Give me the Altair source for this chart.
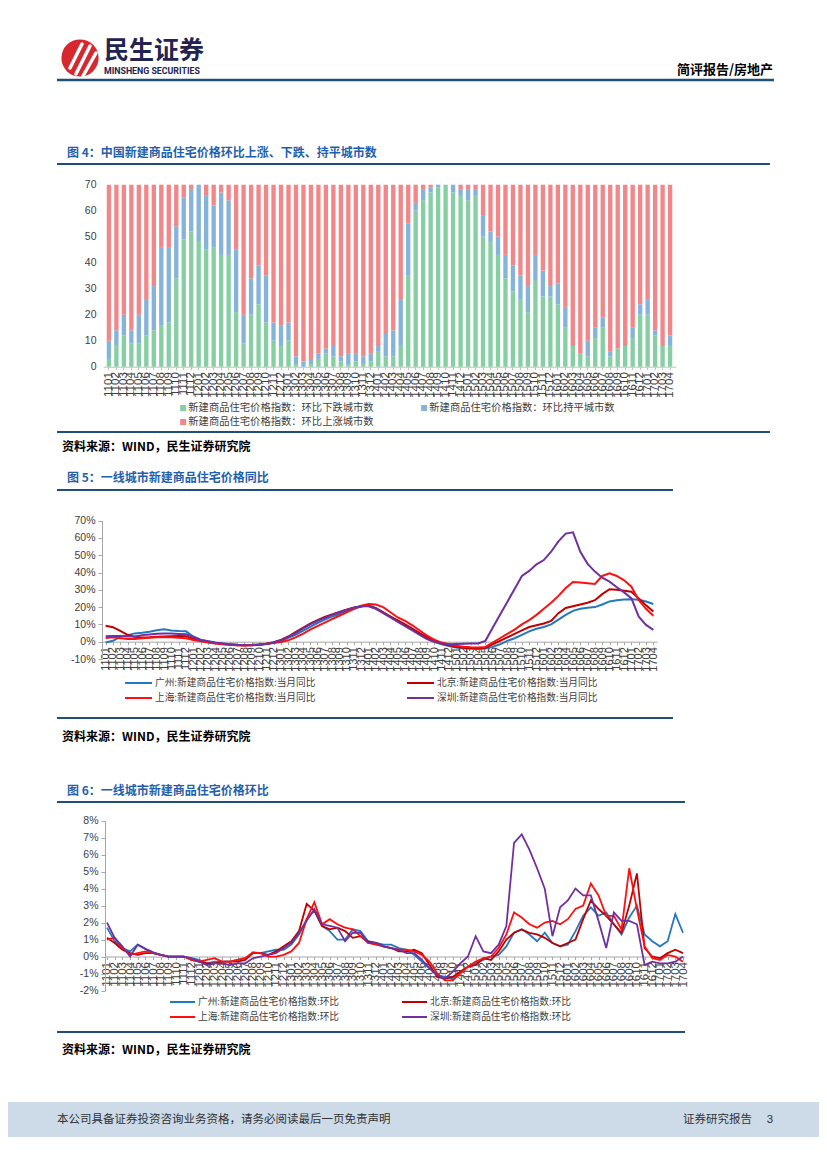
import altair as alt
import pandas as pd

W, H = 811, 1153
CJK = "Noto Sans CJK SC"
NUM = "Liberation Sans"

# ---------------- data ----------------
months = [f"{y:02d}{m:02d}" for y in range(11, 18) for m in range(1, 13)][:76]

bar_cats = ["新建商品住宅价格指数：环比下跌城市数",
            "新建商品住宅价格指数：环比持平城市数",
            "新建商品住宅价格指数：环比上涨城市数"]
bar_colors = ["#86CFA2", "#86B3DA", "#F2878A"]
# legend fills column by column: this order puts 下跌, 持平 on row 1 and 上涨 on row 2
bar_legend_order = [bar_cats[0], bar_cats[2], bar_cats[1]]
bar_legend_colors = [bar_colors[0], bar_colors[2], bar_colors[1]]

down = [3, 8, 12, 9, 9, 12, 14, 16, 17, 34, 49, 52, 48, 45, 46, 43, 43, 21, 9, 20,
        24, 17, 10, 8, 10, 1, 0, 1, 3, 5, 4, 2, 1, 2, 1, 2, 6, 4, 4, 8,
        35, 60, 64, 67, 69, 70, 67, 66, 64, 66, 50, 48, 43, 34, 29, 26, 21, 33, 27, 27,
        24, 15, 8, 5, 4, 11, 15, 4, 7, 8, 11, 20, 20, 12, 8, 8]
flat = [7, 6, 8, 5, 11, 14, 17, 30, 29, 20, 16, 16, 22, 21, 16, 24, 21, 24, 11, 14,
        15, 18, 7, 8, 7, 3, 2, 2, 2, 2, 4, 2, 4, 3, 3, 3, 2, 9, 10, 18,
        20, 3, 4, 2, 1, 0, 3, 2, 4, 2, 8, 4, 7, 9, 10, 9, 10, 10, 10, 4,
        8, 8, 0, 0, 6, 4, 4, 2, 0, 0, 4, 4, 6, 2, 0, 4]
up = [60, 56, 50, 56, 50, 44, 39, 24, 24, 16, 5, 2, 0, 4, 8, 3, 6, 25, 50, 36,
      31, 35, 53, 54, 53, 66, 68, 67, 65, 63, 62, 66, 65, 65, 66, 65, 62, 57, 56, 44,
      15, 7, 2, 1, 0, 0, 0, 2, 2, 2, 12, 18, 20, 27, 31, 35, 39, 27, 33, 39,
      38, 47, 62, 65, 60, 55, 51, 64, 63, 62, 55, 46, 44, 56, 62, 58]

names5 = ["广州:新建商品住宅价格指数:当月同比", "北京:新建商品住宅价格指数:当月同比",
          "上海:新建商品住宅价格指数:当月同比", "深圳:新建商品住宅价格指数:当月同比"]
names6 = ["广州:新建商品住宅价格指数:环比", "北京:新建商品住宅价格指数:环比",
          "上海:新建商品住宅价格指数:环比", "深圳:新建商品住宅价格指数:环比"]
line_colors = ["#2478BE", "#C00000", "#FF1010", "#7030A0"]
# column-major legend order: 广州, 上海 | 北京, 深圳
leg_idx = [0, 2, 1, 3]

gz5 = [-0.5, 0.5, 2.8, 3.8, 4.8, 5.2, 5.8, 6.6, 7.2, 6.5, 6.2, 6.0, 3.0, 1.2, 0.3, -0.5,
       -1.0, -1.4, -1.7, -1.9, -1.9, -1.7, -1.3, -0.6, 0.5, 2.2, 4.0, 6.2, 8.6, 10.8, 12.8, 14.5,
       16.0, 17.5, 19.0, 20.3, 21.0, 19.5, 17.0, 14.5, 12.0, 9.5, 7.0, 4.5, 2.0, 0.0, -1.5, -2.5,
       -3.3, -3.8, -4.0, -4.2, -4.0, -3.0, -1.5, 0.5, 2.0, 4.0, 6.0, 7.5, 8.5, 10.0, 12.8, 15.5,
       17.8, 19.0, 19.6, 20.0, 21.5, 23.3, 24.0, 24.4, 24.6, 24.3, 23.2, 21.8]
bj5 = [9.2, 8.4, 6.2, 4.0, 2.8, 2.5, 2.6, 2.8, 3.0, 3.2, 3.3, 3.2, 1.8, 0.5, -0.2, -0.8,
       -1.3, -1.7, -2.0, -2.2, -2.1, -1.8, -1.2, -0.3, 1.0, 3.0, 5.5, 8.0, 10.5, 12.5, 14.3, 15.8,
       17.2, 18.5, 19.7, 20.5, 20.8, 19.3, 17.0, 14.5, 12.3, 10.0, 7.5, 5.0, 2.5, 0.5, -1.0, -2.0,
       -3.0, -3.5, -3.8, -3.8, -3.5, -1.5, 0.5, 2.5, 4.5, 6.5, 8.5, 9.5, 10.5, 12.0, 16.5, 19.5,
       20.5, 21.5, 22.5, 24.0, 27.5, 30.3, 30.0, 29.5, 28.9, 25.0, 21.0, 17.4]
sh5 = [2.2, 2.5, 2.0, 1.5, 1.5, 2.0, 2.3, 2.5, 2.6, 2.5, 2.3, 2.0, 1.0, 0.2, -0.5, -1.0,
       -1.5, -1.8, -2.0, -2.0, -1.8, -1.5, -1.2, -0.8, -0.2, 0.8, 2.5, 4.5, 7.0, 9.0, 11.0, 13.0,
       15.0, 17.0, 19.0, 20.8, 21.8, 21.5, 20.0, 17.0, 14.0, 12.0, 9.5, 6.5, 3.5, 1.2, -0.5, -1.5,
       -2.3, -2.9, -3.2, -3.3, -3.0, -0.5, 2.0, 4.5, 7.0, 10.0, 12.5, 15.5, 19.0, 22.5, 26.5, 31.0,
       34.5, 34.2, 33.8, 33.4, 38.0, 39.5, 38.0, 35.5, 31.8, 24.0, 19.0, 15.0]
sz5 = [3.2, 3.3, 3.3, 3.0, 3.0, 3.8, 4.2, 4.6, 4.8, 4.7, 4.5, 4.3, 2.8, 1.0, 0.2, -0.6,
       -1.0, -1.5, -1.8, -2.0, -2.0, -1.8, -1.3, -0.5, 0.8, 2.8, 5.0, 7.5, 10.0, 12.0, 13.8, 15.5,
       17.0, 18.5, 19.8, 20.5, 20.5, 19.0, 16.5, 14.0, 11.5, 9.0, 6.5, 4.0, 1.5, 0.0, -1.0, -1.5,
       -1.3, -1.2, -1.1, -1.0, 0.5, 8.0, 15.6, 23.0, 30.5, 38.0, 40.9, 44.7, 47.2, 52.0, 58.0, 62.5,
       63.2, 52.0, 45.0, 40.5, 37.0, 34.7, 31.5, 28.5, 25.0, 14.5, 9.7, 6.8]

gz6 = [1.7, 0.9, 0.5, 0.3, 0.7, 0.45, 0.25, 0.1, 0.0, 0.0, 0.0, -0.1, -0.2, -0.4, -0.3, -0.3,
       -0.3, -0.2, -0.1, 0.2, 0.2, 0.3, 0.4, 0.4, 0.7, 1.3, 2.2, 2.7, 1.8, 1.5, 1.0, 1.0,
       1.6, 1.5, 0.9, 0.8, 0.7, 0.7, 0.5, 0.4, 0.1, -0.3, -0.7, -1.1, -1.2, -1.3, -0.9, -0.6,
       -0.4, -0.2, 0.0, 0.1, 0.6, 1.4, 1.6, 1.3, 0.9, 1.4, 0.8, 0.6, 0.7, 1.5, 2.4, 2.9,
       2.4, 2.6, 1.9, 1.3, 2.3, 3.0, 1.3, 0.9, 0.6, 0.9, 2.5, 1.4]
bj6 = [1.1, 0.8, 0.4, 0.2, 0.1, 0.2, 0.2, 0.1, 0.0, 0.0, 0.0, -0.2, -0.3, -0.4, -0.4, -0.3,
       -0.3, -0.3, -0.2, 0.2, 0.2, 0.1, 0.3, 0.6, 0.9, 1.5, 3.1, 2.7, 1.8, 1.6, 1.7, 1.5,
       1.1, 1.2, 0.9, 0.8, 0.6, 0.5, 0.3, 0.3, 0.4, 0.2, -0.5, -1.2, -1.3, -1.2, -0.9, -0.6,
       -0.5, -0.1, -0.2, 0.3, 1.0, 1.4, 1.6, 1.4, 1.3, 1.1, 0.8, 0.6, 0.8, 1.0, 2.2, 3.3,
       2.8, 2.4, 1.9, 1.4, 3.0, 4.9, 0.5, 0.0, -0.1, 0.2, 0.4, 0.2]
sh6 = [1.0, 1.1, 0.5, 0.1, 0.2, 0.3, 0.2, 0.1, 0.0, 0.0, 0.0, -0.2, -0.3, -0.2, -0.1, -0.3,
       -0.3, -0.2, -0.1, 0.25, 0.2, 0.0, 0.0, 0.1, 0.3, 0.8, 2.2, 3.2, 1.9, 2.2, 1.9, 1.7,
       1.6, 1.2, 0.8, 0.7, 0.6, 0.5, 0.4, 0.4, 0.3, 0.1, -0.3, -1.0, -1.4, -1.4, -1.0, -0.6,
       -0.3, -0.1, 0.0, 0.5, 1.3, 2.6, 2.3, 1.9, 1.7, 2.0, 2.1, 1.9, 2.2, 2.8, 3.0, 4.3,
       3.6, 2.4, 2.4, 1.6, 5.2, 2.8, 0.6, -0.1, -0.2, 0.1, 0.0, -0.3]
sz6 = [2.0, 1.1, 0.6, 0.0, 0.7, 0.45, 0.25, 0.1, 0.0, 0.0, 0.0, -0.1, -0.3, -0.5, -0.4, -0.4,
       -0.5, -0.4, -0.4, -0.1, 0.0, 0.1, 0.2, 0.5, 0.8, 1.4, 2.1, 2.8, 1.9, 1.8, 1.7, 0.9,
       1.4, 1.4, 0.8, 0.8, 0.6, 0.5, 0.4, 0.2, 0.2, -0.2, -0.7, -1.1, -1.3, -0.9, -0.4, 0.0,
       1.2, 0.3, 0.2, 0.7, 1.8, 6.7, 7.2, 6.3, 5.2, 4.0, 1.2, 2.9, 3.3, 4.0, 3.6, 3.6,
       2.1, 0.5, 2.6, 2.1, 2.1, 1.9, -0.5, -0.3, -0.4, -0.4, -0.3, 0.0]

# ---------------- tables ----------------
bar_rows = []
for i, m in enumerate(months):
    for k, vals in enumerate([down, flat, up]):
        bar_rows.append({"month": m, "cat": bar_cats[k], "count": vals[i], "ord": k})
bar_df = pd.DataFrame(bar_rows)

def long_df(names, series):
    rows = []
    for n, s in zip(names, series):
        for m, v in zip(months, s):
            rows.append({"month": m, "s": n, "v": v})
    return pd.DataFrame(rows)

df5 = long_df(names5, [gz5, bj5, sh5, sz5])
df6 = long_df(names6, [gz6, bj6, sh6, sz6])

dummy = alt.Data(values=[{"k": 0}])

def txt(x, y, s, size=12, color="#000000", weight="normal", align="left", font=CJK):
    return alt.Chart(dummy).mark_text(text=s, fontSize=size, color=color, fontWeight=weight,
                                      align=align, baseline="middle", font=font).encode(
        x=alt.value(x), y=alt.value(y))

def hrule(x1, x2, y, color="#1F4E79", w=2):
    return alt.Chart(dummy).mark_rule(color=color, strokeWidth=w).encode(
        x=alt.value(x1), x2=alt.value(x2), y=alt.value(y))

def seg(x1, y1, x2, y2, color="#ffffff", w=3.5):
    return alt.Chart(dummy).mark_rule(color=color, strokeWidth=w, strokeCap="round").encode(
        x=alt.value(x1), x2=alt.value(x2), y=alt.value(y1), y2=alt.value(y2))

TITLE_BLUE = "#1F5FAD"
RULE_BLUE = "#1F4E79"
GRAY = "#A6A6A6"
LAB = "#404040"

# ---------------- decorations ----------------
deco = [
    alt.Chart(dummy).mark_rect(color="#CDDAE8").encode(
        x=alt.value(0), x2=alt.value(W), y=alt.value(1094), y2=alt.value(1129)),
    alt.Chart(dummy).mark_circle(size=1385, color="#D7282F", opacity=1).encode(
        x=alt.value(72), y=alt.value(50)),
    seg(62, 60, 74, 36), seg(68, 66, 82, 38), seg(75, 68, 88, 45),
    txt(96, 43, "民生证券", size=25, color="#23234F", weight="bold"),
    txt(96, 63, "MINSHENG SECURITIES", size=8.8, color="#23234F", weight="bold", font="Roboto"),
    txt(765, 62, "简评报告/房地产", size=13, weight="bold", align="right"),
    hrule(49, 766, 72, RULE_BLUE, 2.5),
    # chart 4
    txt(59, 145, "图 4：中国新建商品住宅价格环比上涨、下跌、持平城市数", size=12, color=TITLE_BLUE, weight="bold"),
    hrule(49, 762, 156),
    hrule(49, 762, 424),
    txt(54, 439, "资料来源：WIND，民生证券研究院", size=12, weight="bold"),
    # chart 5
    txt(59, 470, "图 5：一线城市新建商品住宅价格同比", size=12, color=TITLE_BLUE, weight="bold"),
    hrule(49, 665, 482),
    hrule(49, 665, 710),
    txt(54, 729, "资料来源：WIND，民生证券研究院", size=12, weight="bold"),
    # chart 6
    txt(59, 783, "图 6：一线城市新建商品住宅价格环比", size=12, color=TITLE_BLUE, weight="bold"),
    hrule(49, 677, 794),
    hrule(49, 677, 1024),
    txt(54, 1042, "资料来源：WIND，民生证券研究院", size=12, weight="bold"),
    # footer
    txt(49, 1112, "本公司具备证券投资咨询业务资格，请务必阅读最后一页免责声明", size=11.5, color="#333333"),
    txt(744, 1112, "证券研究报告", size=11.5, color="#333333", align="right"),
    txt(762, 1112, "3", size=11.5, color="#333333", align="center", font=NUM),
]

# ---------------- chart 4: stacked bars ----------------
Y4_0, Y4_70 = 358.7, 176.7
bars = alt.Chart(bar_df).mark_bar().encode(
    x=alt.X("month:O", sort=months,
            scale=alt.Scale(type="band", range=[95, 668], paddingInner=0.42, paddingOuter=0.5),
            axis=alt.Axis(orient="bottom", offset=-(H - Y4_0), title=None, labelAngle=270,
                          labelFontSize=11.5, labelFont=NUM, labelColor=LAB, labelPadding=2,
                          labelOverlap=False, domainColor="#BFBFBF", tickColor="#BFBFBF",
                          tickSize=3, grid=False)),
    y=alt.Y("count:Q", stack="zero",
            scale=alt.Scale(domain=[0, 70], range=[Y4_0, Y4_70]),
            axis=alt.Axis(orient="left", offset=-95, title=None, values=[0, 10, 20, 30, 40, 50, 60, 70],
                          domain=False, ticks=False, labelFontSize=10.5, labelFont=NUM,
                          labelColor=LAB, labelPadding=7, grid=False)),
    color=alt.Color("cat:N", scale=alt.Scale(domain=bar_legend_order, range=bar_legend_colors),
                    legend=alt.Legend(title=None, orient="none", legendX=170, legendY=394.5,
                                      columns=2, columnPadding=45, rowPadding=3, clipHeight=11,
                                      symbolType="square", symbolSize=36, symbolStrokeWidth=0,
                                      labelFont=CJK, labelFontSize=10.3, labelColor=LAB,
                                      labelOffset=0, labelLimit=400, padding=0)),
    order=alt.Order("ord:Q"),
)

# ---------------- chart 5: YoY lines ----------------
Y5_0 = 633.7
lines5 = alt.Chart(df5).mark_line(strokeWidth=2).encode(
    x=alt.X("month:O", sort=months,
            scale=alt.Scale(type="point", range=[94, 649], padding=0.5),
            axis=alt.Axis(orient="bottom", offset=-(H - Y5_0), title=None, labelAngle=270,
                          labelFontSize=11, labelFont=NUM, labelColor=LAB, labelPadding=2,
                          labelOverlap=False, domainColor=GRAY, tickColor=GRAY, tickSize=3,
                          grid=False)),
    y=alt.Y("v:Q", scale=alt.Scale(domain=[-10, 70], range=[651, 512.6]),
            axis=alt.Axis(orient="left", offset=-94, title=None,
                          values=[-10, 0, 10, 20, 30, 40, 50, 60, 70],
                          labelExpr="datum.value + '%'", domainColor=GRAY, tickColor=GRAY,
                          tickSize=4, labelFontSize=10.5, labelFont=NUM, labelColor=LAB,
                          labelPadding=3, grid=False)),
    color=alt.Color("s:N", scale=alt.Scale(domain=[names5[i] for i in leg_idx],
                                           range=[line_colors[i] for i in leg_idx]),
                    legend=alt.Legend(title=None, orient="none", legendX=116, legendY=668.5,
                                      columns=2, columnPadding=90, rowPadding=2, clipHeight=13,
                                      symbolType="stroke", symbolSize=729, symbolStrokeWidth=2,
                                      labelFont=CJK, labelFontSize=9.7, labelColor=LAB,
                                      labelOffset=2, labelLimit=400, padding=0)),
)

# ---------------- chart 6: MoM lines ----------------
Y6_0 = 948.5
lines6 = alt.Chart(df6).mark_line(strokeWidth=1.8).encode(
    x=alt.X("month:O", sort=months,
            scale=alt.Scale(type="point", range=[97, 677], padding=0.26),
            axis=alt.Axis(orient="bottom", offset=-(H - Y6_0), title=None, labelAngle=270,
                          labelFontSize=11.5, labelFont=NUM, labelColor=LAB, labelPadding=2,
                          labelOverlap=False, domainColor=GRAY, tickColor=GRAY, tickSize=3,
                          grid=False)),
    y=alt.Y("v:Q", scale=alt.Scale(domain=[-2, 8], range=[982.5, 812.7]),
            axis=alt.Axis(orient="left", offset=-97, title=None,
                          values=[-2, -1, 0, 1, 2, 3, 4, 5, 6, 7, 8],
                          labelExpr="datum.value + '%'", domainColor=GRAY, tickColor=GRAY,
                          tickSize=4, labelFontSize=10.5, labelFont=NUM, labelColor=LAB,
                          labelPadding=3, grid=False)),
    color=alt.Color("s:N", scale=alt.Scale(domain=[names6[i] for i in leg_idx],
                                           range=[line_colors[i] for i in leg_idx]),
                    legend=alt.Legend(title=None, orient="none", legendX=161, legendY=987.5,
                                      columns=2, columnPadding=61, rowPadding=2, clipHeight=13,
                                      symbolType="stroke", symbolSize=625, symbolStrokeWidth=2,
                                      labelFont=CJK, labelFontSize=9.7, labelColor=LAB,
                                      labelOffset=2, labelLimit=400, padding=0)),
)

chart = alt.layer(*deco, bars, lines5, lines6).resolve_scale(
    x="independent", y="independent", color="independent"
).resolve_legend(color="independent").properties(
    width=W, height=H, padding=0, background="#FFFFFF"
).configure_view(strokeWidth=0)

chart.save("out.html", embed_options={"renderer": "svg", "actions": False})
